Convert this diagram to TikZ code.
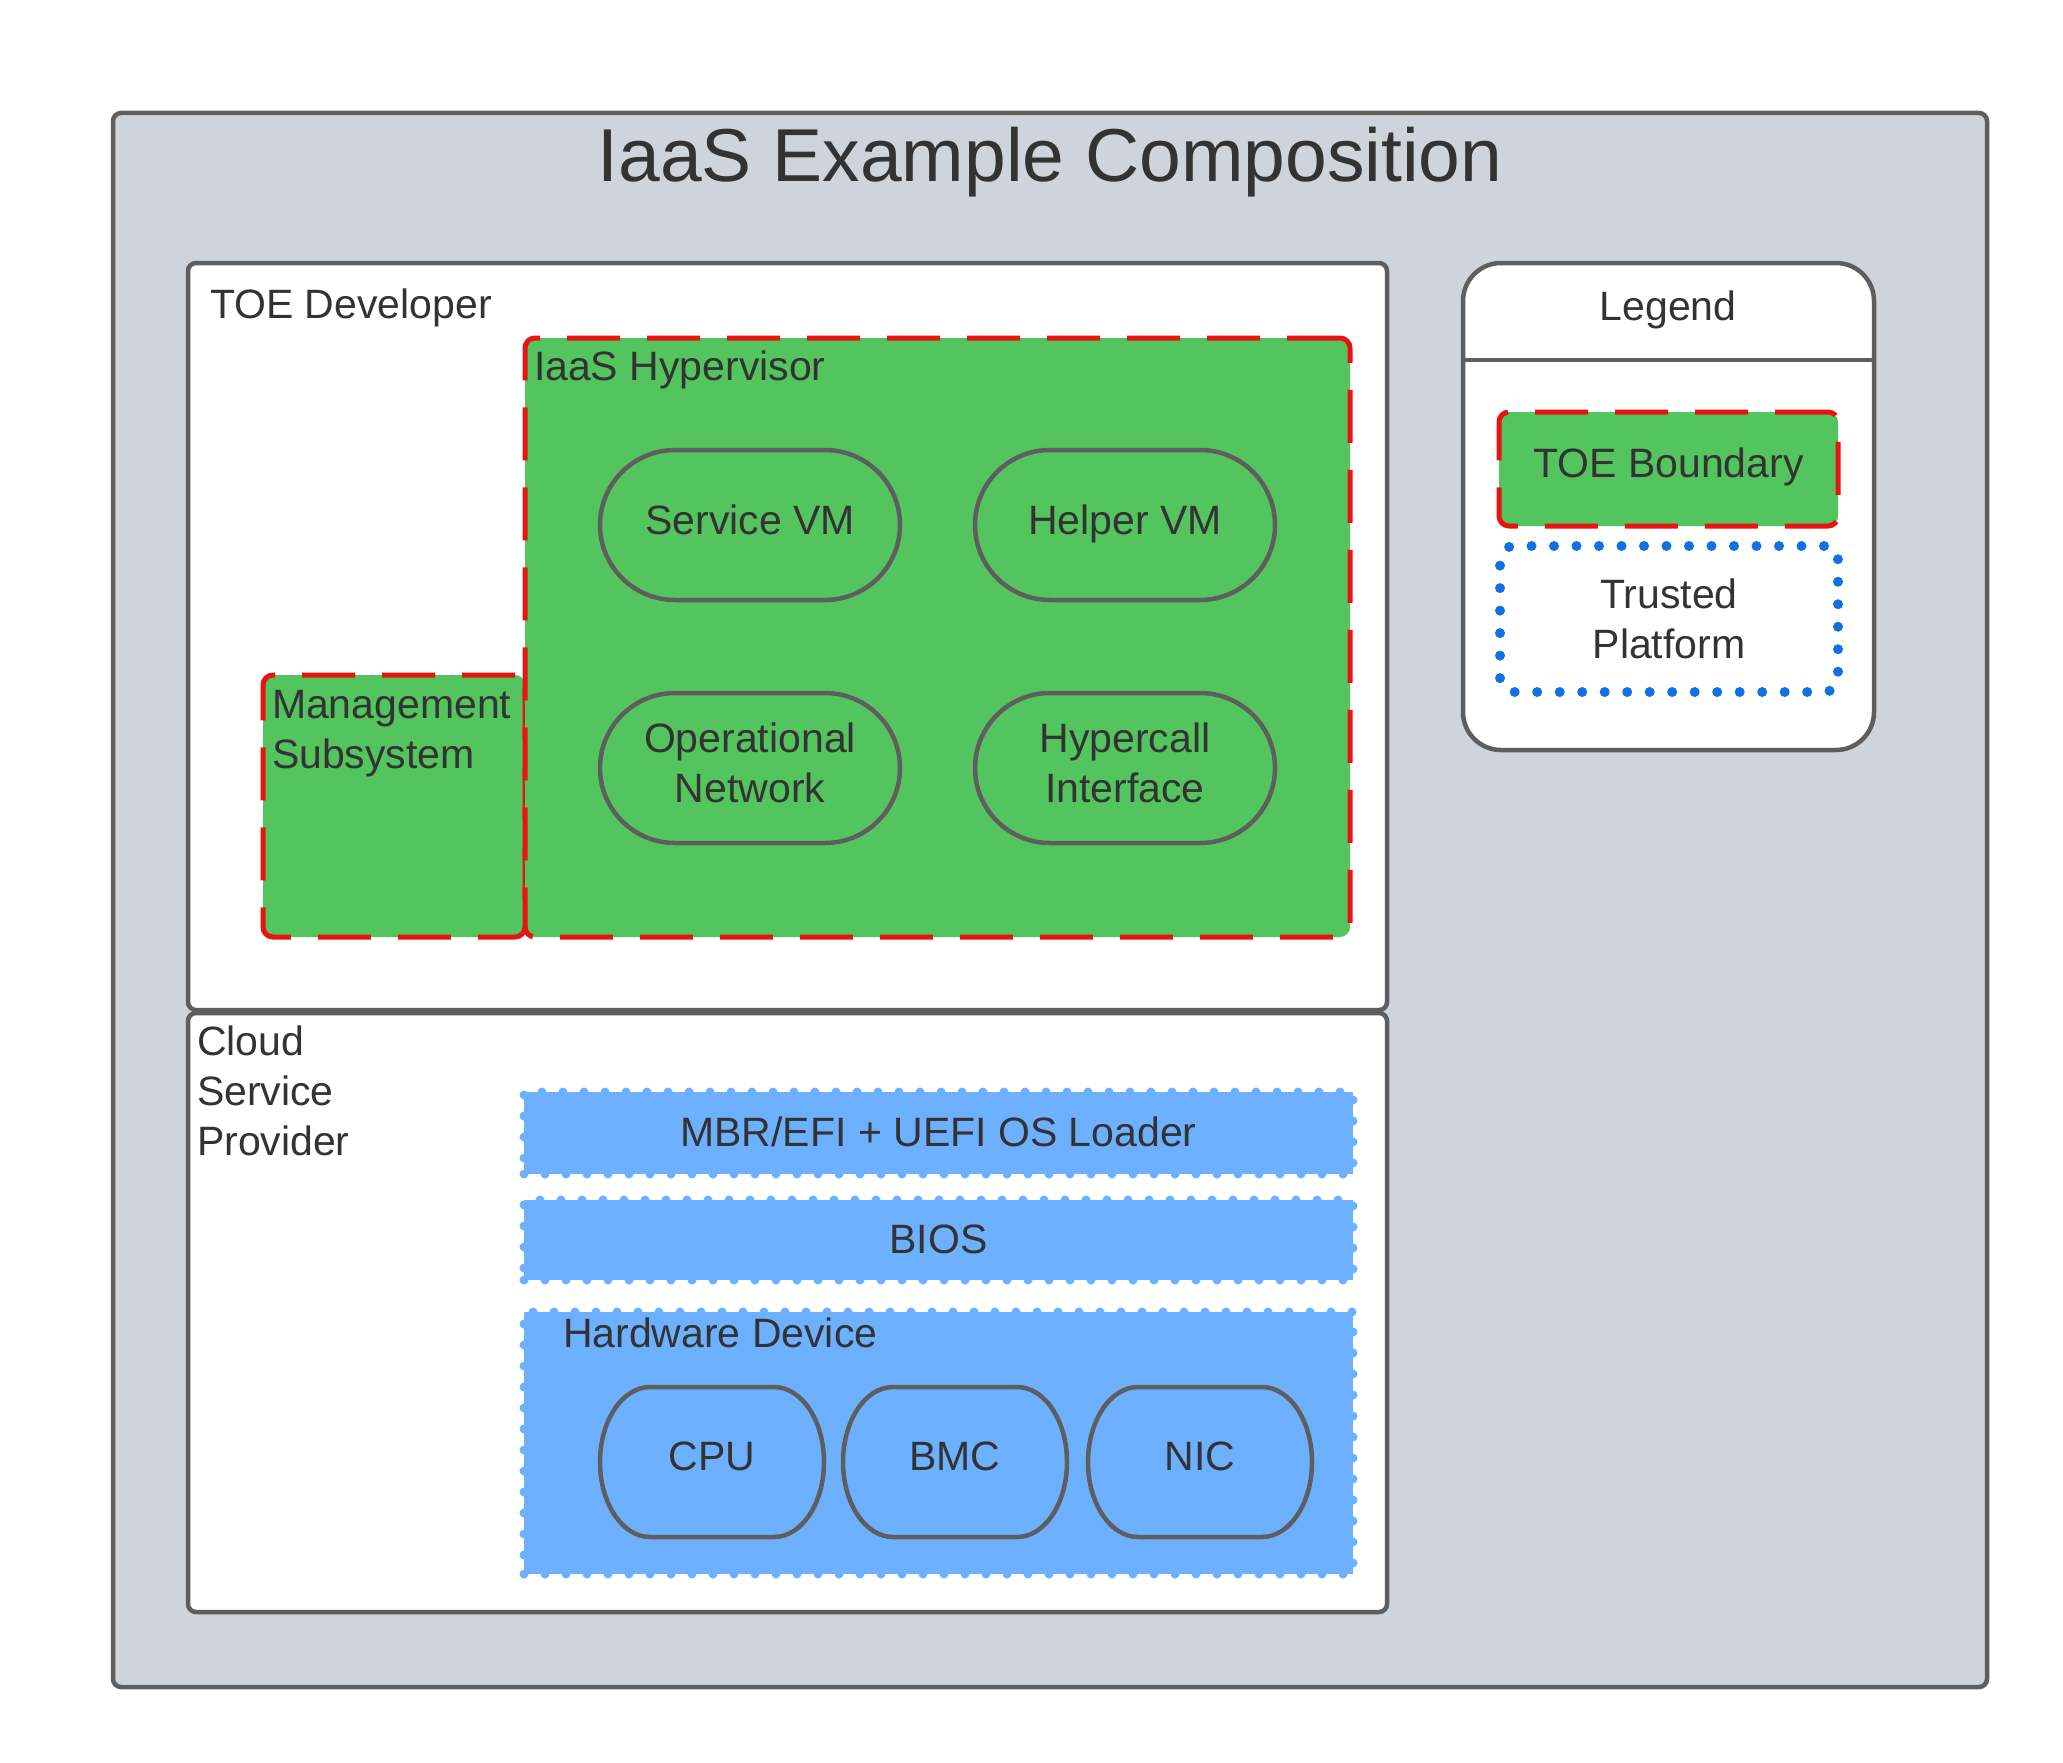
\documentclass[tikz,border=0pt]{standalone}
\usepackage{fontspec}
\setmainfont{Liberation Sans}
\definecolor{bgc}{HTML}{CDD4DC}
\definecolor{edge}{HTML}{5E5E5E}
\definecolor{toegreen}{HTML}{54C45E}
\definecolor{toered}{HTML}{E81313}
\definecolor{tpblue}{HTML}{6DB0FF}
\definecolor{dotblue}{HTML}{1071E5}
\definecolor{txt}{HTML}{333333}
\newcommand{\lblfont}{\fontsize{41}{50}\selectfont}
\newcommand{\ttlfont}{\fontsize{75}{80}\selectfont}
\newcommand{\hwunit}[3]{%
  \node[minimum width=224pt, minimum height=150pt] (#1) at (#2,1462) {};
  \draw[hwpart] ([xshift=50pt]#1.north west) -- ([xshift=-50pt]#1.north east)
    arc[start angle=90, end angle=-90, x radius=50pt, y radius=75pt]
    -- ([xshift=50pt]#1.south west)
    arc[start angle=270, end angle=90, x radius=50pt, y radius=75pt] -- cycle;
  \node[text depth=12pt] (#1-label) at (#1) {#3};}
\begin{document}
\begin{tikzpicture}[x=1pt,y=-1pt,
  every node/.style={inner sep=0pt, outer sep=0pt, text=txt, font=\lblfont},
  frame/.style={draw=edge, line width=4.5pt, rounded corners=8pt, anchor=north west},
  toebox/.style={fill=toegreen, draw=toered, line width=5pt, dash pattern=on 53pt off 27pt, rounded corners=10pt, anchor=north west},
  vm/.style={draw=edge, fill=toegreen, line width=4.5pt, rounded corners=75pt, minimum width=300pt, minimum height=150pt, align=center, text depth=10pt},
  platbox/.style={fill=tpblue, draw=tpblue, line width=9pt, dash pattern=on 0pt off 21pt, line cap=round, anchor=north west},
  hwpart/.style={draw=edge, fill=tpblue, line width=4.5pt},
  lbl/.style={anchor=base west},
]
\useasboundingbox (0,0) rectangle (2063,1763);
% outer frame
\node[frame, fill=bgc, minimum width=1874pt, minimum height=1574pt] (outer) at (113,113) {};
\node[font=\ttlfont, anchor=base] (title) at (1050,182) {IaaS Example Composition};
% TOE developer
\node[frame, fill=white, minimum width=1199pt, minimum height=747pt] (toedev) at (188,263) {};
\node[lbl] (toedevlbl) at (210,318) {TOE Developer};
\node[toebox, minimum width=262pt, minimum height=262pt] (mgmt) at (263,675) {};
\node[toebox, minimum width=825pt, minimum height=599pt] (hyper) at (525,338) {};
\node[lbl] (hyperlbl) at (534,380) {IaaS Hypervisor};
\node[lbl, align=left] (mgmtlbl) at (272,768) {Management\\Subsystem};
\node[vm] (svm) at (750,525) {Service VM};
\node[vm] (hvm) at (1125,525) {Helper VM};
\node[vm] (opnet) at (750,768) {Operational\\Network};
\node[vm] (hcall) at (1125,768) {Hypercall\\Interface};
% Cloud service provider
\node[frame, fill=white, minimum width=1199pt, minimum height=599pt] (csp) at (188,1013) {};
\node[lbl, align=left] (csplbl) at (197,1155) {Cloud\\Service\\Provider};
\node[platbox, minimum width=829pt, minimum height=82pt, text depth=2pt] (mbr) at (524,1092) {MBR/EFI + UEFI OS Loader};
\node[platbox, minimum width=829pt, minimum height=80pt, text depth=2pt] (bios) at (524,1200) {BIOS};
\node[platbox, minimum width=829pt, minimum height=262pt] (hw) at (524,1312) {};
\node[lbl] (hwlbl) at (563,1347) {Hardware Device};
\hwunit{cpu}{712}{CPU}
\hwunit{bmc}{955}{BMC}
\hwunit{nic}{1200}{NIC}
% Legend
\node[frame, fill=white, rounded corners=38pt, minimum width=411pt, minimum height=487pt] (legend) at (1463,263) {};
\coordinate (divy) at (0,360);
\draw[draw=edge, line width=4.5pt] (legend.west |- divy) -- (legend.east |- divy);
\node[anchor=base] (legendtitle) at (1668,320) {Legend};
\node[toebox, minimum width=339pt, minimum height=114pt, text depth=12pt] (toeb) at (1499,412) {TOE Boundary};
\node[draw=dotblue, line width=10pt, dash pattern=on 0pt off 22.5pt, line cap=round, rounded corners=14pt, fill=white, anchor=north west, minimum width=338pt, minimum height=146pt, align=center, text depth=0pt] (trusted) at (1500,546) {Trusted\\Platform};
\end{tikzpicture}
\end{document}
